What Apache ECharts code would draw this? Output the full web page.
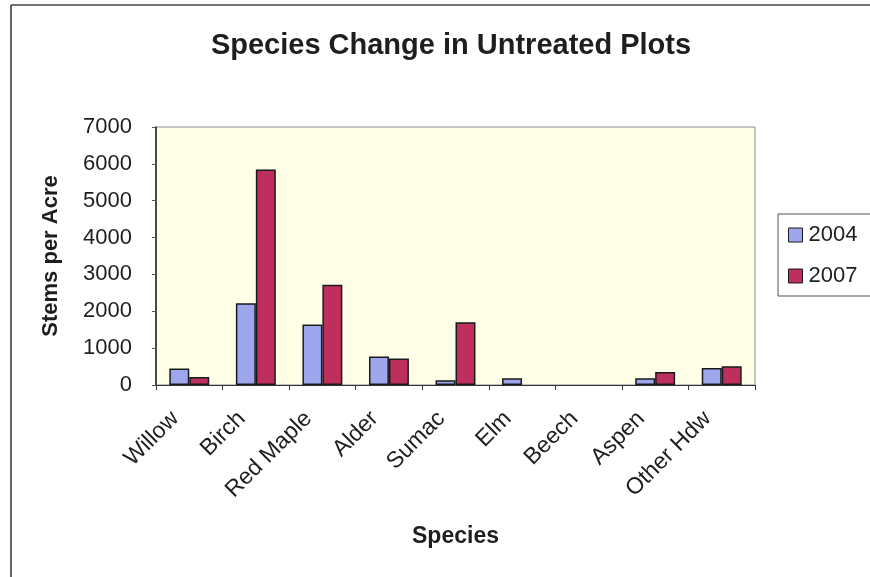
<!DOCTYPE html>
<html>
<head>
<meta charset="utf-8">
<script src="https://cdn.jsdelivr.net/npm/echarts@6/dist/echarts.min.js"></script>
<style>
  html, body { margin: 0; padding: 0; background: #ffffff; }
  #chart { width: 870px; height: 577px; }
</style>
</head>
<body>
<div id="chart"></div>
<script>
// Stems per acre by species, untreated plots
const species = ['Willow', 'Birch', 'Red Maple', 'Alder', 'Sumac', 'Elm', 'Beech', 'Aspen', 'Other Hdw'];
const stems2004 = [450, 2220, 1640, 770, 130, 180, 0, 180, 460];
const stems2007 = [220, 5850, 2720, 720, 1700, 0, 0, 350, 510];
const yTicks = { min: 0, max: 7000, interval: 1000 };

const FONT = '"Liberation Sans", Arial, sans-serif';
const COLOR_2004 = '#9ea6ee';
const COLOR_2007 = '#bf2f5e';
const chart = echarts.init(document.getElementById('chart'));

// zero-height bars get no outline so they vanish like empty values
const toBars = (values) => values.map(v => v === 0
  ? { value: v, itemStyle: { borderWidth: 0 } }
  : v);
const barStyle = (color) => ({ color: color, borderColor: '#1a1a1a', borderWidth: 1.5 });

chart.setOption({
  animation: false,
  backgroundColor: '#ffffff',
  title: {
    text: 'Species Change in Untreated Plots',
    left: 446,
    top: 26,
    textAlign: 'center',
    textStyle: { fontFamily: FONT, fontWeight: 'bold', fontSize: 29, color: '#1e1e1e' }
  },
  legend: {
    orient: 'vertical',
    left: 778,
    top: 214,
    padding: [10, 30, 9, 10],
    itemGap: 19,
    itemWidth: 14,
    itemHeight: 14,
    borderColor: '#555',
    borderWidth: 1,
    icon: 'rect',
    textStyle: { fontFamily: FONT, fontSize: 22, color: '#1e1e1e', padding: [0, 0, 0, 1] },
    data: [
      { name: '2004', itemStyle: { color: COLOR_2004, borderColor: '#1a1a1a', borderWidth: 1 } },
      { name: '2007', itemStyle: { color: COLOR_2007, borderColor: '#1a1a1a', borderWidth: 1 } }
    ]
  },
  grid: {
    left: 156, top: 127, width: 599, height: 258,
    show: true,
    backgroundColor: '#fffee6',
    borderColor: '#8a8a8a',
    borderWidth: 1
  },
  xAxis: {
    type: 'category',
    data: species,
    name: 'Species',
    nameLocation: 'middle',
    nameGap: 140,
    nameTextStyle: { fontFamily: FONT, fontWeight: 'bold', fontSize: 23, color: '#1e1e1e' },
    axisLine: { lineStyle: { color: '#333', width: 1 } },
    axisTick: { show: true, length: 5, lineStyle: { color: '#333' } },
    axisLabel: {
      rotate: 45, margin: 16, interval: 0,
      padding: [0, 20, 0, 0],
      fontFamily: FONT, fontSize: 23, color: '#1e1e1e'
    }
  },
  yAxis: {
    type: 'value',
    min: yTicks.min, max: yTicks.max, interval: yTicks.interval,
    name: 'Stems per Acre',
    nameLocation: 'middle',
    nameGap: 94,
    nameTextStyle: { fontFamily: FONT, fontWeight: 'bold', fontSize: 22, color: '#1e1e1e' },
    axisLine: { show: true, lineStyle: { color: '#222', width: 1.5 } },
    axisTick: { show: true, length: 4, lineStyle: { color: '#555' } },
    splitLine: { show: false },
    axisLabel: {
      margin: 24, fontFamily: FONT, fontSize: 22, color: '#1e1e1e',
      formatter: (v) => String(v)
    }
  },
  series: [
    {
      name: '2004', type: 'bar', data: toBars(stems2004),
      barGap: '0%', barCategoryGap: '40%',
      itemStyle: barStyle(COLOR_2004)
    },
    {
      name: '2007', type: 'bar', data: toBars(stems2007),
      itemStyle: barStyle(COLOR_2007)
    }
  ],
  graphic: [
    // page frame: top and left edges
    { type: 'line', shape: { x1: 11, y1: 5, x2: 870, y2: 5 }, style: { stroke: '#444', lineWidth: 1.5 } },
    { type: 'line', shape: { x1: 11, y1: 5, x2: 11, y2: 577 }, style: { stroke: '#333', lineWidth: 1.5 } }
  ]
});
</script>
</body>
</html>
